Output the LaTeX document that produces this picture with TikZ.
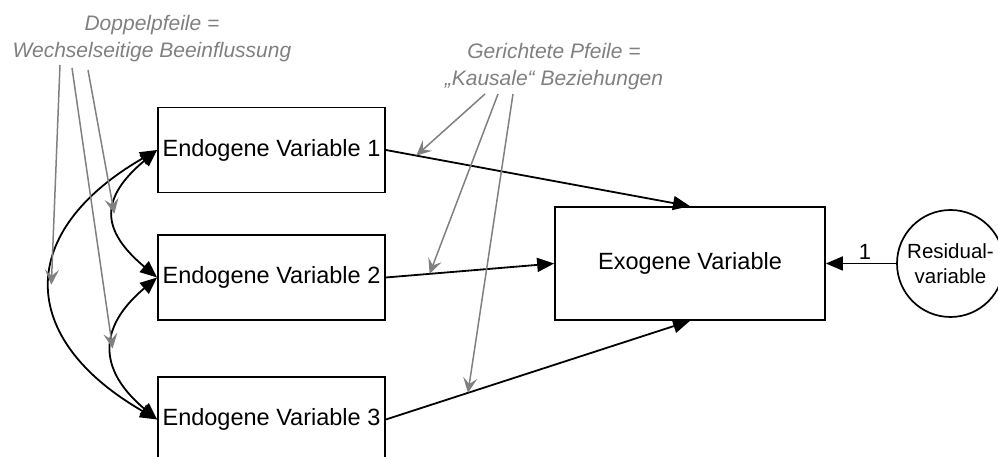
\documentclass[tikz,border=0pt]{standalone}
\usepackage{fontspec}
\setmainfont{Liberation Sans}
\usetikzlibrary{arrows.meta}

\tikzset{
  box/.style={draw, line width=1.7pt, minimum width=227pt, minimum height=85pt, inner sep=0pt, font=\fontsize{23.5}{27}\selectfont},
  note/.style={text=gray, align=center, font=\fontsize{21}{27}\selectfont\itshape},
  effect/.style={-{Triangle[length=17pt,width=14pt]}, line width=1.8pt},
  corr/.style={{Triangle[length=17pt,width=14pt]}-{Triangle[length=17pt,width=14pt]}, line width=1.8pt},
  hint/.style={-{Stealth[length=15pt,width=14pt,inset=6pt]}, gray, line width=1.5pt},
}

\begin{document}
\begin{tikzpicture}[x=1pt, y=1pt]
  \path[use as bounding box, clip] (0,0) rectangle (998,457);
  \node[box] (E1) at (271.5,307) {Endogene Variable 1};
  \node[box] (E2) at (271.5,179.5) {Endogene Variable 2};
  \node[box] (E3) at (271.5,37.5) {Endogene Variable 3};
  \node[box, minimum width=270pt, minimum height=113pt] (X) at (690,193.5) {Exogene Variable};
  \node[circle, draw, line width=1.7pt, minimum size=107pt, inner sep=0pt, align=center, font=\fontsize{20.5}{25}\selectfont] (R) at (950.5,193.5) {Residual-\\variable};
  \node[note] (dn) at (152,418.5) {Doppelpfeile =\\Wechselseitige Beeinflussung};
  \node[note] (kn) at (554,390.5) {Gerichtete Pfeile =\\„Kausale“ Beziehungen};
  % kausale Pfade
  \draw[effect] (E1.east) -- coordinate[pos=.1] (p1) (X.north);
  \draw[effect] (E2.east) -- coordinate[pos=.26] (p2) (X.west);
  \draw[effect] (E3.east) -- coordinate[pos=.27] (p3) (X.south);
  \draw[effect] (R.west) -- node[above, xshift=4pt, font=\fontsize{22}{25}\selectfont] {1} (X.east);
  % Korrelationen
  \draw[corr] (E1.west) to[out=220, in=140, looseness=1.5] coordinate[pos=.5] (c12) (E2.west);
  \draw[corr] (E2.west) to[out=220, in=140, looseness=1.4] coordinate[pos=.5] (c23) (E3.west);
  \draw[corr] (E1.west) to[out=210, in=150, looseness=1.55] coordinate[pos=.5] (c13) (E3.west);
  % Hinweispfeile
  \coordinate (d1) at (60,392);
  \coordinate (d2) at (72,389);
  \coordinate (d3) at (88,387);
  \coordinate (k1) at (485,363);
  \coordinate (k2) at (498,363);
  \coordinate (k3) at (513,363);
  \draw[hint] (d1) -- (c13);
  \draw[hint] (d2) -- (c23);
  \draw[hint] (d3) -- (c12);
  \draw[hint] (k1) -- (p1);
  \draw[hint] (k2) -- (p2);
  \draw[hint] (k3) -- (p3);
\end{tikzpicture}
\end{document}
